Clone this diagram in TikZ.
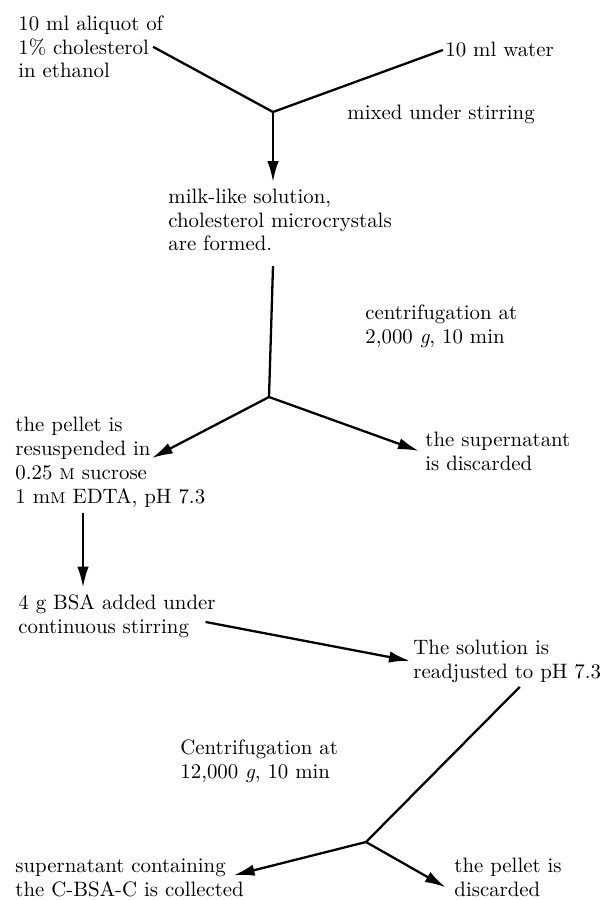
\documentclass[tikz,border=0pt]{standalone}
\usepackage{tikz}
\usetikzlibrary{arrows.meta,positioning}
\tikzset{
  flow/.style={
    line width=1.1pt
  },
  flowarrow/.style={
    line width=1.1pt,
    -{Latex[length=10pt,width=5.5pt]}
  },
  steptext/.style={
    anchor=base west,
    align=left,
    inner sep=0pt,
    font=\fontsize{10}{11.5}\selectfont
  },
}
\begin{document}
\begin{tikzpicture}[x=0.48pt,y=-0.48pt]
    \useasboundingbox (0,0) rectangle (600,900);
    % texts (placed at the baseline of their last line)
    \node[steptext] (chol)    at (18,78)   {10 ml aliquot of\\1\% cholesterol\\in ethanol};
    \node[steptext] (water)   at (445,57)  {10 ml water};
    \node[steptext] (mixed)   at (347,120) {mixed under stirring};
    \node[steptext] (milk)    at (168,251) {milk-like solution,\\cholesterol microcrystals\\are formed.};
    \node[steptext] (cent1)   at (365,343) {centrifugation at\\2,000 \textit{g}, 10 min};
    \node[steptext] (pellet)  at (15,503)  {the pellet is\\resuspended in\\0.25 \textsc{m} sucrose\\1 m\textsc{m} EDTA, pH 7.3};
    \node[steptext] (supern)  at (425,470) {the supernatant\\is discarded};
    \node[steptext] (bsa)     at (18,633)  {4 g BSA added under\\continuous stirring};
    \node[steptext] (soln)    at (413,678) {The solution is\\readjusted to pH 7.3};
    \node[steptext] (cent2)   at (180,778) {Centrifugation at\\12,000 \textit{g}, 10 min};
    \node[steptext] (collect) at (15,896)  {supernatant containing\\the C-BSA-C is collected};
    \node[steptext] (discard) at (454,896) {the pellet is\\discarded};
    % junctions and free ends
    \coordinate (mix)    at (273,112);
    \coordinate (spin1)  at (269,397);
    \coordinate (spin2)  at (366,842);
    \coordinate (resusp) at (152,458);
    \coordinate (edta)   at (83,513);
    % connectors
    \draw[flow] ([xshift=-5pt]chol.east) -- (mix);
    \draw[flow] ([xshift=-1pt]water.west) -- (mix);
    \draw[flowarrow] (mix) -- ([yshift=3pt]mix |- milk.north);
    \draw[flow] ([yshift=-7pt]milk.south -| mix) -- (spin1);
    \draw[flowarrow] (spin1) -- (resusp);
    \draw[flowarrow] (spin1) -- ([xshift=-3pt]supern.west);
    \draw[flowarrow] (edta) -- ([yshift=3pt]edta |- bsa.north);
    \draw[flowarrow] ([shift={(-5pt,-3pt)}]bsa.east) -- ([xshift=-1.5pt]soln.west);
    \draw[flow] ([shift={(6pt,-2pt)}]soln.south) -- (spin2);
    \draw[flowarrow] (spin2) -- ([shift={(-5pt,1pt)}]collect.east);
    \draw[flowarrow] (spin2) -- ([shift={(-4pt,-5pt)}]discard.west);
\end{tikzpicture}
\end{document}
